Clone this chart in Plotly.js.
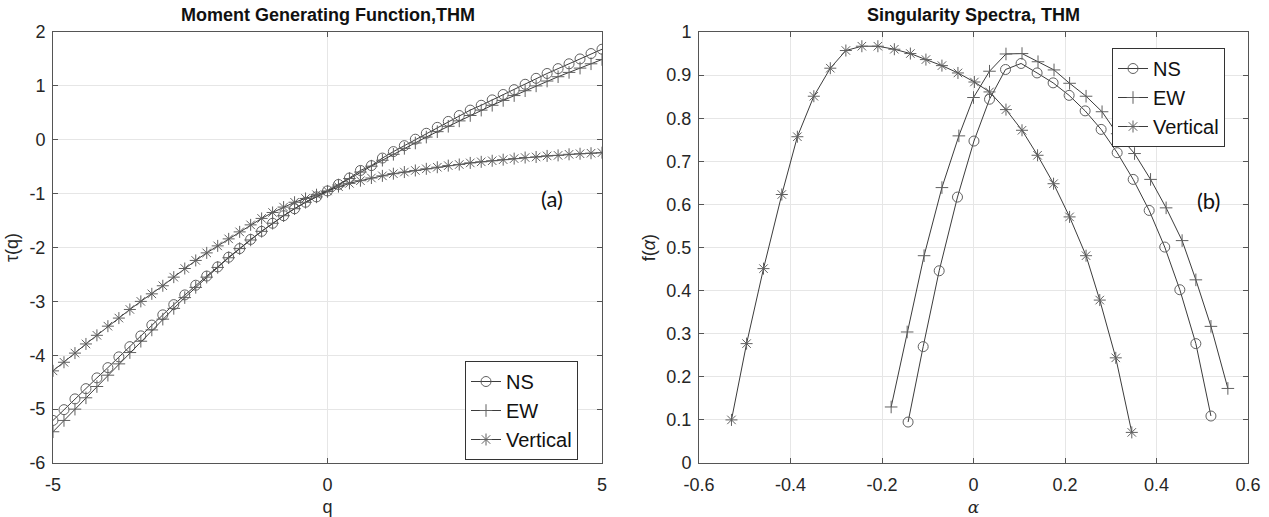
<!DOCTYPE html>
<html>
<head>
<meta charset="utf-8">
<script src="https://cdn.plot.ly/plotly-3.0.1.min.js"></script>
<style>html,body{margin:0;padding:0;background:#fff;}#chart{width:1269px;height:517px;}</style>
</head>
<body>
<div id="chart"></div>
<script>
// ---- Left panel: moment generating function tau(q) ----
const q = [-5,-4.8,-4.6,-4.4,-4.2,-4,-3.8,-3.6,-3.4,-3.2,-3,-2.8,-2.6,-2.4,-2.2,-2,-1.8,-1.6,-1.4,-1.2,-1,-0.8,-0.6,-0.4,-0.2,0,
  0.2,0.4,0.6,0.8,1,1.2,1.4,1.6,1.8,2,2.2,2.4,2.6,2.8,3,3.2,3.4,3.6,3.8,4,4.2,4.4,4.6,4.8,5];
const tauNS = [-5.21,-5.01,-4.81,-4.62,-4.42,-4.23,-4.03,-3.84,-3.64,-3.44,-3.25,-3.06,-2.88,-2.70,-2.53,-2.36,-2.18,-2.02,-1.85,-1.70,-1.55,-1.41,-1.28,-1.16,-1.06,-0.95,
  -0.83,-0.71,-0.57,-0.48,-0.34,-0.22,-0.11,0.01,0.12,0.23,0.34,0.45,0.55,0.64,0.74,0.84,0.93,1.03,1.14,1.23,1.32,1.41,1.50,1.60,1.68];
const tauEW = [-5.42,-5.21,-5.00,-4.79,-4.58,-4.37,-4.16,-3.95,-3.74,-3.53,-3.33,-3.13,-2.93,-2.74,-2.55,-2.37,-2.19,-2.02,-1.86,-1.70,-1.55,-1.41,-1.28,-1.16,-1.06,-0.96,
  -0.84,-0.72,-0.60,-0.49,-0.38,-0.27,-0.16,-0.06,0.05,0.15,0.25,0.35,0.45,0.55,0.64,0.73,0.82,0.91,1.00,1.09,1.17,1.25,1.33,1.41,1.49];
const tauV = [-4.29,-4.13,-3.96,-3.79,-3.63,-3.46,-3.31,-3.15,-3.00,-2.86,-2.71,-2.55,-2.39,-2.24,-2.10,-1.97,-1.84,-1.71,-1.58,-1.46,-1.35,-1.25,-1.16,-1.09,-1.02,-0.95,
  -0.87,-0.81,-0.76,-0.71,-0.67,-0.63,-0.60,-0.57,-0.54,-0.51,-0.48,-0.46,-0.43,-0.41,-0.39,-0.37,-0.35,-0.33,-0.32,-0.30,-0.29,-0.27,-0.26,-0.25,-0.24];

// ---- Right panel: singularity spectra f(alpha) ----
const alphaNS = [-0.143,-0.110,-0.075,-0.035,0.001,0.035,0.070,0.104,0.139,0.174,0.209,0.244,0.279,0.314,0.349,0.384,0.418,0.451,0.486,0.519];
const fNS = [0.095,0.270,0.446,0.617,0.747,0.844,0.913,0.927,0.905,0.882,0.853,0.817,0.774,0.720,0.658,0.586,0.501,0.402,0.277,0.109];
const alphaEW = [-0.180,-0.145,-0.108,-0.069,-0.032,0.000,0.035,0.071,0.106,0.141,0.176,0.210,0.246,0.281,0.314,0.352,0.387,0.421,0.456,0.486,0.519,0.556];
const fEW = [0.130,0.304,0.481,0.639,0.759,0.848,0.909,0.949,0.950,0.931,0.912,0.881,0.851,0.815,0.764,0.718,0.658,0.592,0.516,0.425,0.317,0.173];
const alphaV = [-0.529,-0.496,-0.459,-0.419,-0.385,-0.349,-0.313,-0.279,-0.244,-0.209,-0.173,-0.138,-0.104,-0.069,-0.034,0.002,0.035,0.071,0.106,0.140,0.175,0.210,0.246,0.276,0.311,0.346];
const fV = [0.100,0.277,0.451,0.623,0.757,0.851,0.916,0.957,0.967,0.967,0.960,0.950,0.936,0.922,0.905,0.884,0.861,0.820,0.772,0.714,0.648,0.571,0.481,0.378,0.244,0.071];

const seriesNames = ['NS','EW','Vertical'];
const leftXTicks = [-5,0,5];
const leftXText = ['-5','0','5'];
const leftYTicks = [-6,-5,-4,-3,-2,-1,0,1,2];
const leftYText = ['-6','-5','-4','-3','-2','-1','0','1','2'];
const rightXTicks = [-0.6,-0.4,-0.2,0,0.2,0.4,0.6];
const rightXText = ['-0.6','-0.4','-0.2','0','0.2','0.4','0.6'];
const rightYTicks = [0,0.1,0.2,0.3,0.4,0.5,0.6,0.7,0.8,0.9,1];
const rightYText = ['0','0.1','0.2','0.3','0.4','0.5','0.6','0.7','0.8','0.9','1'];

const LINE = '#3c3c3c';
const MARK = '#606060';
const symbols = ['circle-open','cross-thin-open','asterisk-open'];
const sizes = [10,9,10];

function tr(x,y,i,xa,ya,leg){
  return {x:x,y:y,xaxis:xa,yaxis:ya,type:'scatter',mode:'lines+markers',name:seriesNames[i],
    legend:leg,line:{color:LINE,width:1},
    marker:{symbol:symbols[i],size:sizes[i],color:MARK,line:{color:MARK,width:1}}};
}
const data = [
  tr(q,tauNS,0,'x','y','legend'),
  tr(q,tauEW,1,'x','y','legend'),
  tr(q,tauV,2,'x','y','legend'),
  tr(alphaNS,fNS,0,'x2','y2','legend2'),
  tr(alphaEW,fEW,1,'x2','y2','legend2'),
  tr(alphaV,fV,2,'x2','y2','legend2')
];

const FONT = 'Liberation Sans, Arial, sans-serif';
const axBase = {showline:true,mirror:'ticks',linecolor:'#555',linewidth:1,ticks:'inside',ticklen:5,
  tickcolor:'#555',showgrid:true,gridcolor:'#e6e6e6',gridwidth:1,zeroline:false,
  tickfont:{family:FONT,size:18,color:'#262626'},automargin:false,fixedrange:true};

const layout = {
  width:1269,height:517,margin:{l:0,r:0,t:0,b:0},paper_bgcolor:'#fff',plot_bgcolor:'#fff',
  showlegend:true,
  xaxis:Object.assign({},axBase,{domain:[53/1269,602/1269],range:[-5,5],tickvals:leftXTicks,ticktext:leftXText,
    anchor:'y',ticklabelstandoff:5,title:{text:'q',font:{family:FONT,size:18,color:'#262626'},standoff:12}}),
  yaxis:Object.assign({},axBase,{domain:[1-463/517,1-32/517],range:[-6,2],tickvals:leftYTicks,ticktext:leftYText,
    anchor:'x',ticklabelstandoff:3,title:{text:'τ(q)',font:{family:FONT,size:18,color:'#262626'},standoff:6}}),
  xaxis2:Object.assign({},axBase,{domain:[699/1269,1248/1269],range:[-0.6,0.6],tickvals:rightXTicks,ticktext:rightXText,
    anchor:'y2',ticklabelstandoff:5,title:{text:'<i>α</i>',font:{family:'DejaVu Serif, serif',size:17,color:'#262626'},standoff:12}}),
  yaxis2:Object.assign({},axBase,{domain:[1-463/517,1-32/517],range:[0,1],tickvals:rightYTicks,ticktext:rightYText,
    anchor:'x2',ticklabelstandoff:3,title:{text:'f(<i>α</i>)',font:{family:FONT,size:18,color:'#262626'},standoff:6}}),
  legend:{x:465/1269,y:1-361/517,xanchor:'left',yanchor:'top',bgcolor:'#fff',bordercolor:'#333',borderwidth:1,
    font:{family:FONT,size:20,color:'#111'},tracegroupgap:0,itemwidth:30},
  legend2:{x:1112/1269,y:1-48/517,xanchor:'left',yanchor:'top',bgcolor:'#fff',bordercolor:'#333',borderwidth:1,
    font:{family:FONT,size:20,color:'#111'},tracegroupgap:0,itemwidth:30},
  annotations:[
    {text:'<b>Moment Generating Function,THM</b>',xref:'paper',yref:'paper',x:(53+602)/2/1269,y:1-15/517,
      xanchor:'center',yanchor:'middle',showarrow:false,font:{family:FONT,size:18,color:'#111'}},
    {text:'<b>Singularity Spectra, THM</b>',xref:'paper',yref:'paper',x:(699+1248)/2/1269,y:1-15/517,
      xanchor:'center',yanchor:'middle',showarrow:false,font:{family:FONT,size:18,color:'#111'}},
    {text:'(a)',xref:'paper',yref:'paper',x:552/1269,y:1-198/517,xanchor:'center',yanchor:'middle',showarrow:false,
      font:{family:'Lato, Open Sans, sans-serif',size:22,color:'#111'}},
    {text:'(b)',xref:'paper',yref:'paper',x:1208/1269,y:1-200/517,xanchor:'center',yanchor:'middle',showarrow:false,
      font:{family:'Lato, Open Sans, sans-serif',size:22,color:'#111'}}
  ]
};
Plotly.newPlot('chart',data,layout,{staticPlot:true,displayModeBar:false});
</script>
</body>
</html>
